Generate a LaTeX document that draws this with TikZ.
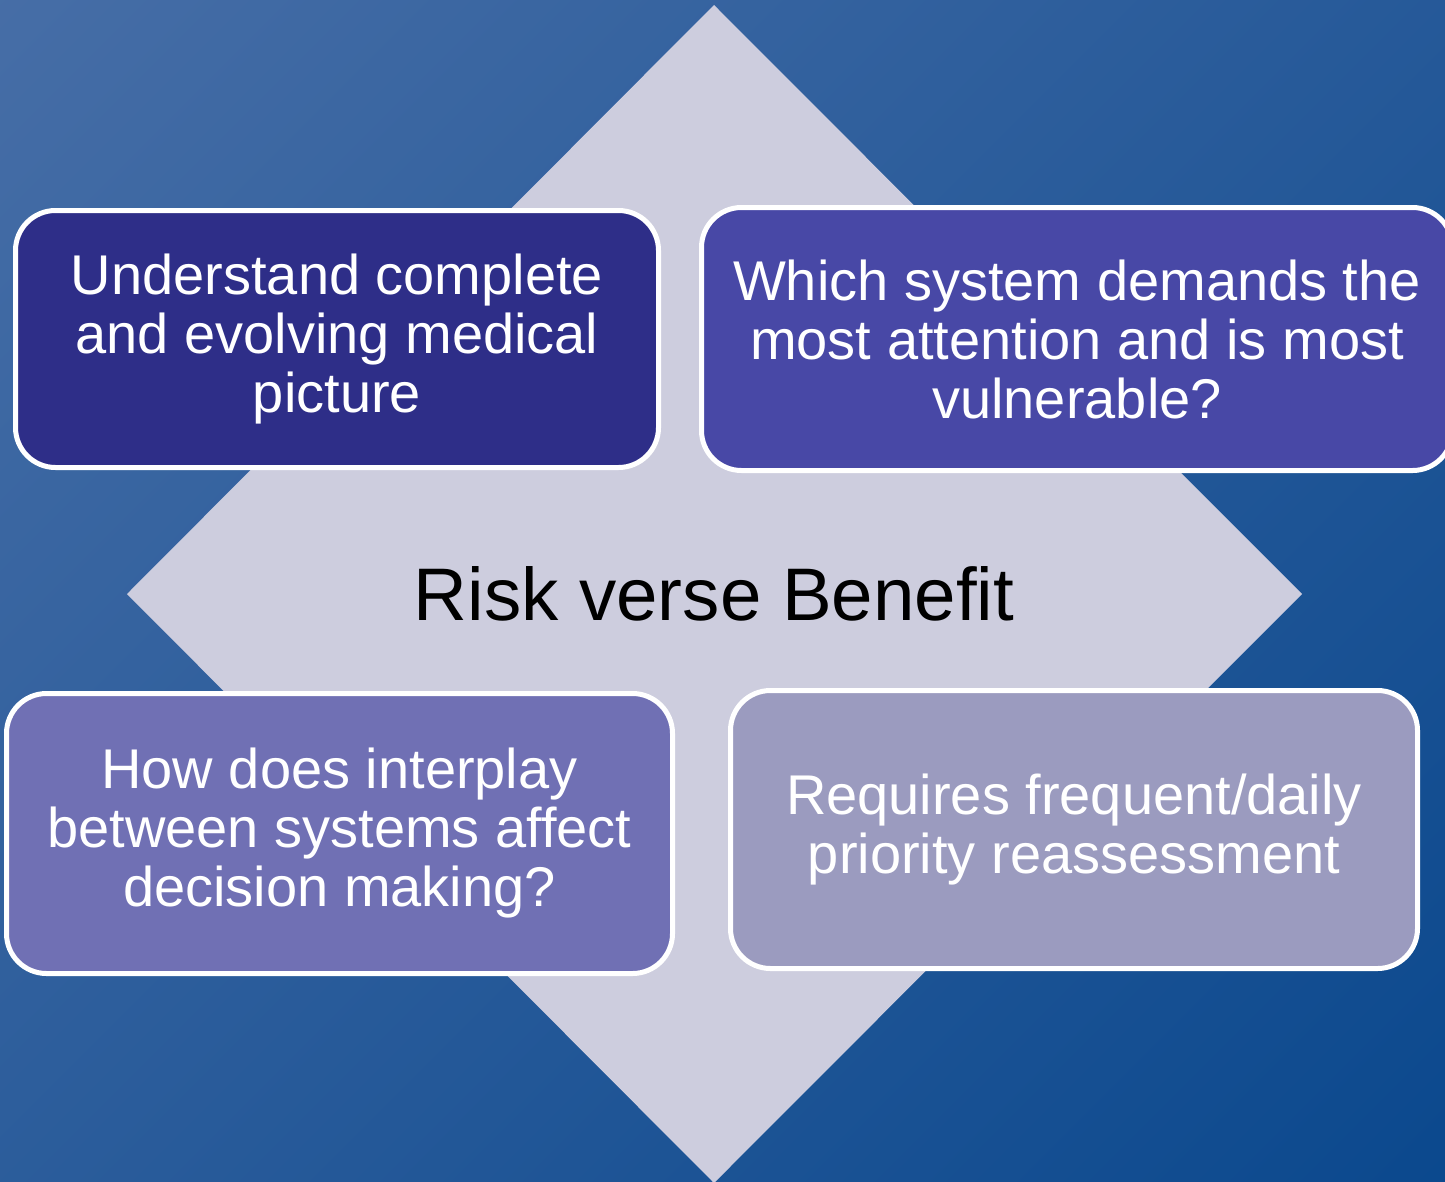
\documentclass[tikz,border=0pt]{standalone}
\usepackage{fontspec}
\setmainfont{Liberation Sans}
\begin{document}
\begin{tikzpicture}[x=1pt,y=-1pt,
  tile/.style={draw=white, line width=5pt, rounded corners=40pt, inner sep=0pt,
    text=white, align=center, font=\fontsize{56}{59}\selectfont},
  hub/.style={inner sep=0pt, text=black, font=\fontsize{74.5}{86}\selectfont}]
\definecolor{bgLight}{HTML}{4A70A8}
\definecolor{bgDark}{HTML}{07468C}
\definecolor{diam}{HTML}{CDCDDE}
\definecolor{tileA}{HTML}{2E2E88}
\definecolor{tileB}{HTML}{4848A6}
\definecolor{tileC}{HTML}{7070B4}
\definecolor{tileD}{HTML}{9B9BBF}
\useasboundingbox (0,0) rectangle (1445,1181);
\clip (0,0) rectangle (1445,1181);
% background gradient, light at top left, dark at bottom right
\shade[top color=bgLight, bottom color=bgDark, shading angle=45]
  (-400,-400) rectangle (1845,1581);
% central diamond
\fill[diam] (714,5) -- (1302,594) -- (714,1183) -- (127,594) -- cycle;
\node[hub] (hub) at (714,594) {Risk verse Benefit};
% four surrounding tiles
\node[tile, fill=tileA, minimum width=643pt, minimum height=257pt] (tl) at (337,339)
  {Understand complete\\and evolving medical\\picture};
\node[tile, fill=tileB, minimum width=751pt, minimum height=263pt] (tr) at (1077,339)
  {Which system demands the\\most attention and is most\\vulnerable?};
\node[tile, fill=tileC, minimum width=666pt, minimum height=280pt] (bl) at (339.5,833.5)
  {How does interplay\\between systems affect\\decision making?};
\node[tile, fill=tileD, minimum width=687pt, minimum height=278pt] (br) at (1074,829.5)
  {Requires frequent/daily\\priority reassessment};
\end{tikzpicture}
\end{document}
